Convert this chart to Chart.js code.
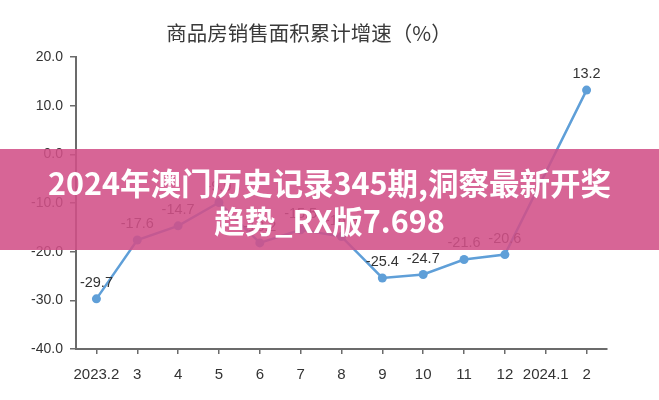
<!DOCTYPE html>
<html>
<head>
<meta charset="utf-8">
<script src="https://cdn.jsdelivr.net/npm/chart.js@4.4.1/dist/chart.umd.min.js"></script>
<style>
  html, body { margin: 0; padding: 0; background: #fff; }
  #wrap { position: relative; width: 659px; height: 400px; overflow: hidden; }
  #banner {
    position: absolute; left: 0; top: 149px; width: 659px; height: 101px;
    background: rgba(210, 80, 135, 0.88);
    color: #fff; text-align: center;
    font-family: "Noto Sans CJK SC", "Noto Sans", sans-serif; font-weight: 700;
    font-size: 30.5px; line-height: 38px;
    box-sizing: border-box; padding-top: 14px;
  }
</style>
</head>
<body>
<div id="wrap">
  <canvas id="c" width="659" height="400"></canvas>
  <div id="banner">2024年澳门历史记录345期,洞察最新开奖<br>趋势_RX版7.698</div>
</div>
<script>
const categories = ["2023.2", "3", "4", "5", "6", "7", "8", "9", "10", "11", "12", "2024.1", "2"];
const growthValues = [-29.7, -17.6, -14.7, -9.9, -18.2, -15.5, -16.9, -25.4, -24.7, -21.6, -20.6, null, 13.2];
const yTickValues = [20, 10, 0, -10, -20, -30, -40];
const chartTitle = "商品房销售面积累计增速（%）";

const lineColor = "#5F9FD8";
const axisColor = "#6b6b6b";
const textColor = "#333333";

const titlePlugin = {
  id: "customTitle",
  afterDraw(chart) {
    const ctx = chart.ctx;
    ctx.save();
    ctx.font = '20.5px "Noto Sans CJK SC", sans-serif';
    ctx.fillStyle = "#3a3a3a";
    ctx.textAlign = "center";
    ctx.textBaseline = "middle";
    ctx.fillText(chartTitle, 309, 33);
    ctx.restore();
  }
};

const labelPlugin = {
  id: "pointLabels",
  afterDatasetsDraw(chart) {
    const ctx = chart.ctx;
    const meta = chart.getDatasetMeta(0);
    const data = chart.data.datasets[0].data;
    ctx.save();
    ctx.font = '14.5px "Liberation Sans", Arial, sans-serif';
    ctx.fillStyle = textColor;
    ctx.textAlign = "center";
    ctx.textBaseline = "middle";
    meta.data.forEach((pt, i) => {
      const v = data[i];
      if (v === null || v === undefined) return;
      ctx.fillText(v.toFixed(1), pt.x, pt.y - 16);
    });
    ctx.restore();
  }
};

new Chart(document.getElementById("c"), {
  type: "line",
  data: {
    labels: categories,
    datasets: [{
      data: growthValues,
      borderColor: lineColor,
      backgroundColor: lineColor,
      borderWidth: 2.5,
      pointRadius: 4.5,
      pointBorderWidth: 0,
      pointBackgroundColor: lineColor,
      tension: 0,
      spanGaps: true,
      fill: false
    }]
  },
  options: {
    responsive: false,
    animation: false,
    devicePixelRatio: 1,
    layout: { padding: { top: 57, right: 52, bottom: 0, left: 0 } },
    plugins: { legend: { display: false }, tooltip: { enabled: false }, title: { display: false } },
    scales: {
      x: {
        type: "category",
        offset: true,
        afterFit(s) { s.height = 51; },
        grid: { drawOnChartArea: false, drawTicks: true, tickLength: 5, color: axisColor, lineWidth: 1.5 },
        border: { display: true, color: axisColor, width: 2 },
        ticks: {
          autoSkip: false, maxRotation: 0, minRotation: 0, padding: 12,
          color: textColor,
          font: { family: '"Liberation Sans", Arial, sans-serif', size: 15 }
        }
      },
      y: {
        min: -40, max: 20,
        afterFit(s) { s.width = 76; },
        afterBuildTicks(s) { s.ticks = yTickValues.map(v => ({ value: v })); },
        grid: { drawOnChartArea: false, drawTicks: true, tickLength: 6, color: axisColor, lineWidth: 1.5 },
        border: { display: true, color: axisColor, width: 2 },
        ticks: {
          padding: 7,
          color: textColor,
          font: { family: '"Liberation Sans", Arial, sans-serif', size: 14 },
          callback: v => Number(v).toFixed(1)
        }
      }
    }
  },
  plugins: [titlePlugin, labelPlugin]
});
</script>
</body>
</html>
